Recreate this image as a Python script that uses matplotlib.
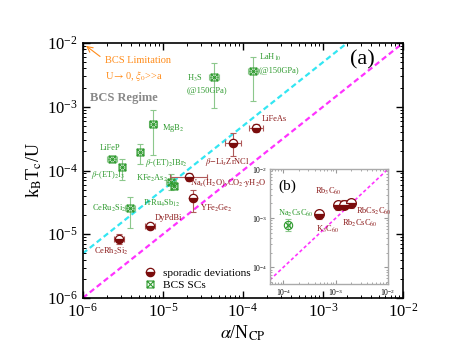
import numpy as np
import matplotlib
matplotlib.use("Agg")
import matplotlib.pyplot as plt
from matplotlib.path import Path
from matplotlib.lines import Line2D

plt.rcParams['font.family'] = ['Liberation Serif', 'DejaVu Serif']
plt.rcParams['mathtext.fontset'] = 'stix'

# BCS superconductors (green)
bcs_names = [r'LiFeP', r'$\beta$-(ET)$_2$I$_3$', r'$\beta$-(ET)$_2$IBr$_2$', r'MgB$_2$',
             r'KFe$_2$As$_2$', r'PrRu$_4$Sb$_{12}$', r'CeRu$_2$Si$_2$', r'H$_3$S', r'LaH$_{10}$']
bcs_x = np.array([2.30e-6, 3.07e-6, 5.16e-6, 7.50e-6, 1.26e-5, 1.37e-5, 3.87e-6, 4.34e-5, 1.33e-4])
bcs_xlo = np.array([1.99e-6, 2.82e-6, 4.73e-6, 6.68e-6, 1.09e-5, 1.26e-5, 3.35e-6, 3.76e-5, 1.15e-4])
bcs_xhi = np.array([2.66e-6, 3.35e-6, 5.63e-6, 8.42e-6, 1.46e-5, 1.49e-5, 4.47e-6, 5.01e-5, 1.54e-4])
bcs_y = np.array([1.51e-4, 1.14e-4, 1.95e-4, 5.37e-4, 6.6e-5, 5.7e-5, 2.58e-5, 2.93e-3, 3.64e-3])
bcs_ylo = np.array([1.36e-4, 7.1e-5, 1.26e-4, 1.75e-4, 4.9e-5, 5.1e-5, 1.25e-5, 9.55e-4, 1.23e-3])
bcs_yhi = np.array([1.69e-4, 1.51e-4, 2.61e-4, 8.9e-4, 8.8e-5, 6.4e-5, 3.84e-5, 4.86e-3, 6.03e-3])

# sporadic deviations (dark red)
dev_names = [r'CeRh$_2$Si$_2$', r'DyPdBi', r'YFe$_2$Ge$_2$',
             r'Na$_x$(H$_2$O)$_y$CO$_2$$\cdot$yH$_2$O', r'$\beta$$-$Li$_x$ZrNCl', r'LiFeAs']
dev_x = np.array([2.82e-6, 6.88e-6, 2.37e-5, 2.11e-5, 7.50e-5, 1.45e-4])
dev_xlo = np.array([2.44e-6, 5.96e-6, 2.17e-5, 1.22e-5, 5.96e-5, 1.19e-4])
dev_xhi = np.array([3.26e-6, 7.95e-6, 2.59e-5, 3.55e-5, 9.44e-5, 1.77e-4])
dev_y = np.array([8.42e-6, 1.35e-5, 3.71e-5, 7.9e-5, 2.70e-4, 4.65e-4])
dev_ylo = np.array([7.0e-6, 1.2e-5, 2.23e-5, 6.8e-5, 1.69e-4, 4.0e-4])
dev_yhi = np.array([1.01e-5, 1.5e-5, 4.94e-5, 9.1e-5, 3.87e-4, 5.4e-4])

# inset: fullerides
ful_names = [r'K$_3$C$_{60}$', r'Rb$_3$C$_{60}$', r'Rb$_2$CsC$_{60}$', r'RbCs$_2$C$_{60}$']
ful_x = np.array([4.9e-4, 1.09e-3, 1.42e-3, 2.0e-3])
ful_y = np.array([1.2e-3, 1.82e-3, 1.9e-3, 2.0e-3])
na_x = np.array([1.25e-4])
na_y = np.array([7.2e-4])

# label positions (data coords)
bcs_lab = [(1.63e-6, 2.25e-4), (1.26e-6, 8.5e-5), (5.95e-6, 1.3e-4), (9.7e-6, 4.6e-4),
           (4.6e-6, 7.6e-5), (5.6e-6, 3.1e-5), (1.3e-6, 2.5e-5), (2.0e-5, 2.8e-3), (1.58e-4, 6.0e-3)]
dev_lab = [(1.37e-6, 5.3e-6), (7.9e-6, 1.8e-5), (2.9e-5, 2.5e-5), (2.2e-5, 6.3e-5),
           (3.35e-5, 1.36e-4), (1.74e-4, 6.4e-4)]
ful_lab = [(4.3e-4, 6.0e-4), (4.1e-4, 3.5e-3), (1.3e-3, 7.8e-4), (2.5e-3, 1.4e-3)]

green = '#2e9a2e'
green_err = '#8cc88c'
red = '#7a0c0c'
red_err = '#b05a5a'
red_txt = '#8b1a1a'

# square with a cross marker
verts = [(-1, -1), (1, -1), (1, 1), (-1, 1), (-1, -1), (-1, -1), (1, 1), (-1, 1), (1, -1)]
codes = [Path.MOVETO, Path.LINETO, Path.LINETO, Path.LINETO, Path.CLOSEPOLY,
         Path.MOVETO, Path.LINETO, Path.MOVETO, Path.LINETO]
sqx = Path(verts, codes)


def asym(v, lo, hi):
    return np.vstack([v - lo, hi - v])


fig = plt.figure(figsize=(4.68, 3.59), dpi=100)
ax = fig.add_axes([0.177, 0.170, 0.684, 0.710])

xx = np.array([1e-6, 1e-2])
ax.plot(xx, 5 * xx, color='#33e6f2', ls=(0, (2.5, 1.5)), lw=1.6, zorder=1)
ax.plot(xx, xx, color='#ff33ff', ls=(0, (2.5, 1.5)), lw=1.6, zorder=1)

ax.errorbar(bcs_x, bcs_y, xerr=asym(bcs_x, bcs_xlo, bcs_xhi), yerr=asym(bcs_y, bcs_ylo, bcs_yhi),
            fmt='none', ecolor=green_err, elinewidth=0.8, capsize=2.5, capthick=0.8, zorder=2)
ax.plot(bcs_x, bcs_y, ls='none', marker=sqx, ms=5, mfc='none', mec=green, mew=0.8, zorder=3)

ax.errorbar(dev_x, dev_y, xerr=asym(dev_x, dev_xlo, dev_xhi), yerr=asym(dev_y, dev_ylo, dev_yhi),
            fmt='none', ecolor=red_err, elinewidth=0.8, capsize=2.5, capthick=0.8, zorder=2)
ax.plot(dev_x, dev_y, ls='none', marker='o', ms=6, fillstyle='bottom', mfc=red,
        mfcalt='white', mec=red, mew=0.9, zorder=3)

for n, (lx, ly) in zip(bcs_names, bcs_lab):
    ax.text(lx, ly, n, color=green, fontsize=6, va='center', ha='left')
for n, (lx, ly) in zip(dev_names, dev_lab):
    ax.text(lx, ly, n, color=red_txt, fontsize=6, va='center', ha='left')
ax.text(1.58e-4, 3.6e-3, '(@150GPa)', color=green, fontsize=6, va='center')
ax.text(2.0e-5, 1.8e-3, '(@150GPa)', color=green, fontsize=6, va='center')

ax.annotate('', xy=(1.03e-6, 9.6e-3), xytext=(1.75e-6, 5.8e-3),
            arrowprops=dict(arrowstyle='->', color='#ff8c1a', lw=0.8))
ax.text(1.88e-6, 5.4e-3, 'BCS Limitation', color='#ff8c1a', fontsize=7.5, va='center')
ax.text(1.88e-6, 3.04e-3, r'U$\rightarrow$0, $\xi_0$>>a', color='#ff8c1a', fontsize=7.5, va='center')
ax.text(1.22e-6, 1.37e-3, 'BCS Regime', color='#888888', fontsize=9, fontweight='bold', va='center')
ax.text(2.2e-3, 5.4e-3, '(a)', fontsize=16, va='center')

ax.set_xscale('log')
ax.set_yscale('log')
ax.set_xlim(1e-6, 1e-2)
ax.set_ylim(1e-6, 1e-2)
ax.set_xticks([1e-6, 1e-5, 1e-4, 1e-3, 1e-2])
ax.set_yticks([1e-6, 1e-5, 1e-4, 1e-3, 1e-2])
ax.tick_params(which='both', direction='in', top=True, right=True, labelsize=12)
ax.tick_params(which='major', length=5, width=1)
ax.tick_params(which='minor', length=2.5, width=0.7)
for s in ax.spines.values():
    s.set_linewidth(1.2)
ax.set_xlabel(r'$\alpha$/N$_{\mathrm{CP}}$', fontsize=13, labelpad=2)
ax.set_ylabel(r'k$_\mathrm{B}$T$_\mathrm{c}$/U', fontsize=13, labelpad=2)

h_dev = Line2D([], [], ls='none', marker='o', ms=6, fillstyle='bottom', mfc=red,
               mfcalt='white', mec=red, mew=0.9)
h_bcs = Line2D([], [], ls='none', marker=sqx, ms=5, mfc='none', mec=green, mew=0.8)
ax.legend([h_dev, h_bcs], ['sporadic deviations', 'BCS SCs'], loc='upper left',
          bbox_to_anchor=(0.175, 0.135), frameon=False, fontsize=8.2,
          handlelength=1.2, handletextpad=0.5, labelspacing=0.2, borderaxespad=0)

# inset
ins = fig.add_axes([0.577, 0.209, 0.252, 0.320])
ii = np.array([4.6e-5, 1e-2])
ins.plot(ii, ii, color='#ff33ff', ls=(0, (2, 1.5)), lw=1.2, zorder=1)
ins.errorbar(ful_x, ful_y, xerr=asym(ful_x, ful_x / 1.06, ful_x * 1.06),
             yerr=asym(ful_y, ful_y / 1.25, ful_y * 1.25),
             fmt='none', ecolor=red_err, elinewidth=0.8, capsize=2, capthick=0.8, zorder=2)
ins.plot(ful_x, ful_y, ls='none', marker='o', ms=7, fillstyle='bottom', mfc=red,
         mfcalt='white', mec=red, mew=0.9, zorder=3)
ins.errorbar(na_x, na_y, xerr=asym(na_x, na_x / 1.08, na_x * 1.08),
             yerr=asym(na_y, na_y / 1.32, na_y * 1.32),
             fmt='none', ecolor=green_err, elinewidth=0.8, capsize=2, capthick=0.8, zorder=2)
ins.plot(na_x, na_y, ls='none', marker='o', ms=6, mfc='none', mec=green, mew=0.8, zorder=3)
ins.plot(na_x, na_y, ls='none', marker='x', ms=4, mec=green, mew=0.8, zorder=3)
for n, (lx, ly) in zip(ful_names, ful_lab):
    ins.text(lx, ly, n, color=red_txt, fontsize=6, va='center')
ins.text(8.0e-5, 1.26e-3, r'Na$_2$CsC$_{60}$', color=green, fontsize=6, va='center')
ins.text(0.07, 0.85, '(b)', transform=ins.transAxes, fontsize=11, va='center')
ins.set_xscale('log')
ins.set_yscale('log')
ins.set_xlim(5.6e-5, 1e-2)
ins.set_ylim(4.6e-5, 1e-2)
ins.set_xticks([1e-4, 1e-3, 1e-2])
ins.set_yticks([1e-4, 1e-3, 1e-2])
ins.tick_params(which='both', direction='in', top=True, right=True, labelsize=5.5,
                color='#999999', pad=2)
ins.tick_params(which='major', length=3)
ins.tick_params(which='minor', length=1.5)
for s in ins.spines.values():
    s.set_color('#aaaaaa')
    s.set_linewidth(1.0)

fig.savefig('out.png', dpi=100)
